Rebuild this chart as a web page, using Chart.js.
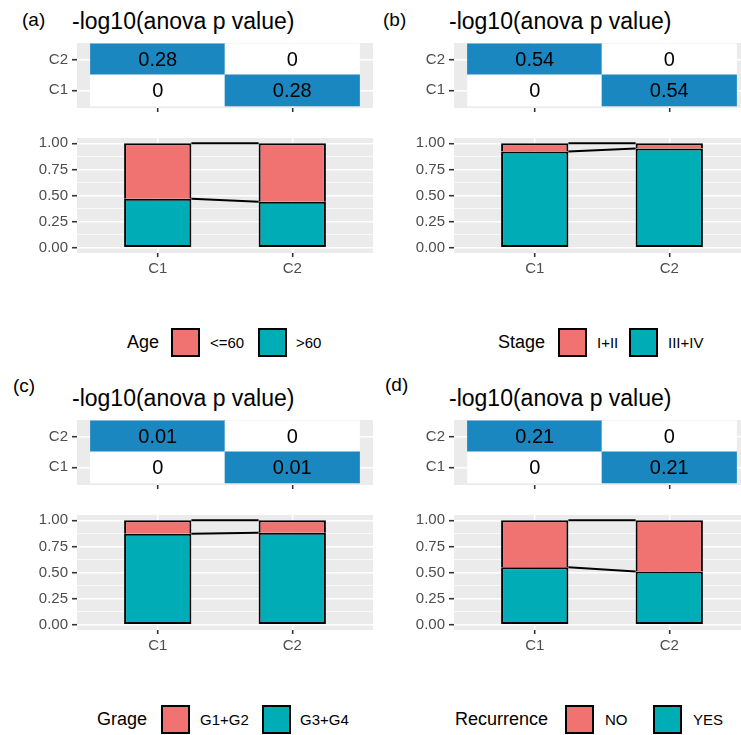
<!DOCTYPE html>
<html>
<head>
<meta charset="utf-8">
<title>Cluster composition and ANOVA scores</title>
<script src="https://cdn.jsdelivr.net/npm/chart.js@4/dist/chart.umd.min.js"></script>
<style>
  html, body { margin: 0; padding: 0; background: #fff; overflow: hidden; }
  #root { position: relative; width: 741px; height: 735px; overflow: hidden;
          font-family: 'Liberation Sans', Arial, Helvetica, sans-serif; color: #000; }
  .abs { position: absolute; white-space: nowrap; line-height: 1; }
  .tag { font-size: 19px; }
  .title { font-size: 23px; }
  .leg { position: absolute; height: 29px; display: flex; align-items: center; white-space: nowrap; }
  .leg-title { font-size: 18px; }
  .leg-label { font-size: 15px; }
  .swatch { width: 29px; height: 29px; box-sizing: border-box; border: 2px solid #000; }
</style>
</head>
<body>
<div id="root"></div>
<script>
// ---- data ----
const clusters = ['C1', 'C2'];
const panelTags = ['(a)', '(b)', '(c)', '(d)'];
const heatTitle = '-log10(anova p value)';
const legendTitles = ['Age', 'Stage', 'Grage', 'Recurrence'];

// -log10(anova p) per tile: row C1 / row C2, columns C1, C2
const ageHeatC1 = [0, 0.28];
const ageHeatC2 = [0.28, 0];
const stageHeatC1 = [0, 0.54];
const stageHeatC2 = [0.54, 0];
const gradeHeatC1 = [0, 0.01];
const gradeHeatC2 = [0.01, 0];
const recurHeatC1 = [0, 0.21];
const recurHeatC2 = [0.21, 0];

// share of samples in each level, per cluster (C1, C2)
const ageLevels = ['<=60', '>60'];
const ageUpTo60 = [0.53, 0.56];
const ageOver60 = [0.47, 0.44];
const stageLevels = ['I+II', 'III+IV'];
const stageEarly = [0.08, 0.05];
const stageLate = [0.92, 0.95];
const gradeLevels = ['G1+G2', 'G3+G4'];
const gradeLow = [0.13, 0.12];
const gradeHigh = [0.87, 0.88];
const recurLevels = ['NO', 'YES'];
const recurNo = [0.45, 0.49];
const recurYes = [0.55, 0.51];

// y axis tick labels of the proportion plots
const shareTicks = [0, 0.25, 0.5, 0.75, 1];

// ---- styling ----
const FONT = "'Liberation Sans', Arial, Helvetica, sans-serif";
const PANEL_BG = '#EBEBEB';
const GRID = '#FFFFFF';
const TICK = '#333333';
const TICK_LABEL = '#4D4D4D';
const HEAT_HIGH = [27, 135, 193];
const LEVEL_COLORS = ['#F07371', '#00ADB6'];   // first level, second level
const BAR_WIDTH = 0.5;                          // in category units

const panels = [
  { tag: panelTags[0], heat: [ageHeatC1, ageHeatC2], levels: ageLevels, shares: [ageUpTo60, ageOver60], legendTitle: legendTitles[0] },
  { tag: panelTags[1], heat: [stageHeatC1, stageHeatC2], levels: stageLevels, shares: [stageEarly, stageLate], legendTitle: legendTitles[1] },
  { tag: panelTags[2], heat: [gradeHeatC1, gradeHeatC2], levels: gradeLevels, shares: [gradeLow, gradeHigh], legendTitle: legendTitles[2] },
  { tag: panelTags[3], heat: [recurHeatC1, recurHeatC2], levels: recurLevels, shares: [recurNo, recurYes], legendTitle: legendTitles[3] },
];

// page placement of each panel and its legend pieces
const layouts = [
  { dx: 0,   dy: 0,   tag: [22, 10],  legend: [127, 171, 210, 258, 296] },
  { dx: 377, dy: 0,   tag: [383, 10], legend: [498, 558, 597, 629, 668] },
  { dx: 0,   dy: 377, tag: [13, -1],  legend: [97, 161, 200, 262, 300] },
  { dx: 377, dy: 377, tag: [385, -2], legend: [455, 565, 605, 653, 693] },
];

// ---- helpers ----
const root = document.getElementById('root');

function addText(cls, text, left, top) {
  const d = document.createElement('div');
  d.className = 'abs ' + cls;
  d.textContent = text;
  d.style.left = left + 'px';
  d.style.top = top + 'px';
  root.appendChild(d);
  return d;
}

function addCanvas(left, top, w, h) {
  const c = document.createElement('canvas');
  c.width = w; c.height = h;
  c.style.cssText = `position:absolute;left:${left}px;top:${top}px;width:${w}px;height:${h}px;`;
  root.appendChild(c);
  return c;
}

function heatColor(t) {
  const r = Math.round(255 + (HEAT_HIGH[0] - 255) * t);
  const g = Math.round(255 + (HEAT_HIGH[1] - 255) * t);
  const b = Math.round(255 + (HEAT_HIGH[2] - 255) * t);
  return `rgb(${r},${g},${b})`;
}

function fmtScore(v) { return v === 0 ? '0' : v.toFixed(2); }

// grey plotting panel behind grid and marks
const panelBackground = {
  id: 'panelBackground',
  beforeDraw(chart) {
    const { ctx, chartArea: a } = chart;
    ctx.save();
    ctx.fillStyle = PANEL_BG;
    ctx.fillRect(a.left, a.top, a.right - a.left, a.bottom - a.top);
    ctx.restore();
  }
};

// score printed in the middle of each heatmap tile
const tileLabels = {
  id: 'tileLabels',
  afterDatasetsDraw(chart) {
    const ctx = chart.ctx;
    ctx.save();
    ctx.font = `20px ${FONT}`;
    ctx.fillStyle = '#000';
    ctx.textAlign = 'center';
    ctx.textBaseline = 'middle';
    chart.data.datasets.forEach((ds, di) => {
      chart.getDatasetMeta(di).data.forEach((el, i) => {
        const p = el.getCenterPoint();
        ctx.fillText(fmtScore(ds.data[i].v), p.x, p.y + 1);
      });
    });
    ctx.restore();
  }
};

const clusterX = {
  type: 'linear', min: 0.4, max: 2.6, offset: false,
  afterBuildTicks: s => { s.ticks = clusters.map((_, i) => ({ value: i + 1 })); },
  grid: { offset: false, color: GRID, lineWidth: 1.4, tickColor: TICK, tickLength: 4, tickWidth: 1.6 },
  border: { display: false },
};

function heatChart(canvas, rows) {
  const maxV = Math.max(...rows.flat());
  const datasets = rows.map((vals, r) => ({
    data: vals.map((v, c) => ({ x: c + 1, y: [r, r + 1], v })),
    backgroundColor: vals.map(v => heatColor(maxV > 0 ? v / maxV : 0)),
    borderWidth: 0,
    grouped: false,
    categoryPercentage: 1,
    barPercentage: 1,
  }));
  return new Chart(canvas, {
    type: 'bar',
    data: { datasets },
    options: {
      responsive: false, animation: false, devicePixelRatio: 1,
      layout: { padding: { top: 12, right: 3, left: 0, bottom: 0 } },
      plugins: { legend: { display: false }, tooltip: { enabled: false } },
      scales: {
        x: Object.assign({}, clusterX, {
          ticks: { callback: () => '', autoSkip: false },
          afterFit: s => { s.height = 10; },
        }),
        y: {
          type: 'linear', min: -0.07, max: 2.03,
          afterBuildTicks: s => { s.ticks = clusters.map((_, i) => ({ value: i + 0.5 })); },
          ticks: { callback: v => clusters[Math.round(v - 0.5)], autoSkip: false,
                   font: { family: FONT, size: 15 }, color: TICK_LABEL, padding: 4 },
          grid: { color: GRID, lineWidth: 1.4, tickColor: TICK, tickLength: 5, tickWidth: 1.6 },
          border: { display: false },
          afterFit: s => { s.width = 77; },
        }
      }
    },
    plugins: [panelBackground, tileLabels]
  });
}

function shareChart(canvas, shares) {
  // stack from the last level at the bottom up to the first level
  const order = shares.map((_, i) => shares.length - 1 - i);
  const datasets = [];
  const lines = [];
  let base = clusters.map(() => 0);
  order.forEach(li => {
    const vals = shares[li];
    const tops = vals.map((v, c) => base[c] + v);
    datasets.push({
      type: 'bar',
      data: vals.map((v, c) => ({ x: c + 1, y: [base[c], tops[c]] })),
      backgroundColor: LEVEL_COLORS[li],
      borderColor: '#000',
      borderWidth: 2,
      borderSkipped: base.every(b => b === 0) ? false : 'bottom',
      grouped: false,
      categoryPercentage: BAR_WIDTH,
      barPercentage: 1,
      order: 2,
    });
    // connector between neighbouring bars at the top of this level
    for (let c = 0; c < clusters.length - 1; c++) {
      lines.push({
        type: 'line',
        data: [{ x: c + 1 + BAR_WIDTH / 2, y: tops[c] }, { x: c + 2 - BAR_WIDTH / 2, y: tops[c + 1] }],
        borderColor: '#000',
        borderWidth: 2,
        pointRadius: 0,
        fill: false,
        order: 1,
      });
    }
    base = tops;
  });

  const minor = [];
  for (let i = 0; i < shareTicks.length - 1; i++) minor.push((shareTicks[i] + shareTicks[i + 1]) / 2);
  const allTicks = shareTicks.concat(minor).sort((a, b) => a - b);
  const isMajor = v => shareTicks.some(t => Math.abs(t - v) < 1e-9);

  return new Chart(canvas, {
    type: 'bar',
    data: { datasets: datasets.concat(lines) },
    options: {
      responsive: false, animation: false, devicePixelRatio: 1,
      layout: { padding: { top: 10, right: 3, left: 0, bottom: 0 } },
      plugins: { legend: { display: false }, tooltip: { enabled: false } },
      scales: {
        x: Object.assign({}, clusterX, {
          ticks: { callback: v => clusters[Math.round(v) - 1], autoSkip: false, maxRotation: 0,
                   font: { family: FONT, size: 15 }, color: TICK_LABEL, padding: 3 },
          afterFit: s => { s.height = 37; },
        }),
        y: {
          type: 'linear', min: -0.05, max: 1.05,
          afterBuildTicks: s => { s.ticks = allTicks.map(v => ({ value: v })); },
          ticks: { callback: v => isMajor(v) ? v.toFixed(2) : '', autoSkip: false,
                   font: { family: FONT, size: 15 }, color: TICK_LABEL, padding: 4 },
          grid: {
            color: GRID,
            lineWidth: c => isMajor(c.tick.value) ? 1.4 : 0.7,
            tickColor: c => isMajor(c.tick.value) ? TICK : 'rgba(0,0,0,0)',
            tickLength: 5, tickWidth: 1.6,
          },
          border: { display: false },
          afterFit: s => { s.width = 77; },
        }
      }
    },
    plugins: [panelBackground]
  });
}

function addLegend(p, pos, dy) {
  const top = dy + 328;
  const make = (cls, left, text, color) => {
    const d = document.createElement('div');
    d.className = 'leg';
    d.style.left = left + 'px';
    d.style.top = top + 'px';
    if (text !== null) {
      const s = document.createElement('span');
      s.className = cls;
      s.textContent = text;
      d.appendChild(s);
    } else {
      const b = document.createElement('div');
      b.className = 'swatch';
      b.style.background = color;
      d.appendChild(b);
    }
    root.appendChild(d);
  };
  make('leg-title', pos[0], p.legendTitle);
  make('', pos[1], null, LEVEL_COLORS[0]);
  make('leg-label', pos[2], p.levels[0]);
  make('', pos[3], null, LEVEL_COLORS[1]);
  make('leg-label', pos[4], p.levels[1]);
}

// ---- build the four panels ----
panels.forEach((p, i) => {
  const L = layouts[i];
  addText('tag', p.tag, L.tag[0], L.dy + L.tag[1]);
  addText('title', heatTitle, L.dx + 72, L.dy + 10);
  heatChart(addCanvas(L.dx, L.dy + 30, 376, 91), p.heat);
  shareChart(addCanvas(L.dx, L.dy + 125, 376, 165), p.shares);
  addLegend(p, L.legend, L.dy);
});
</script>
</body>
</html>
